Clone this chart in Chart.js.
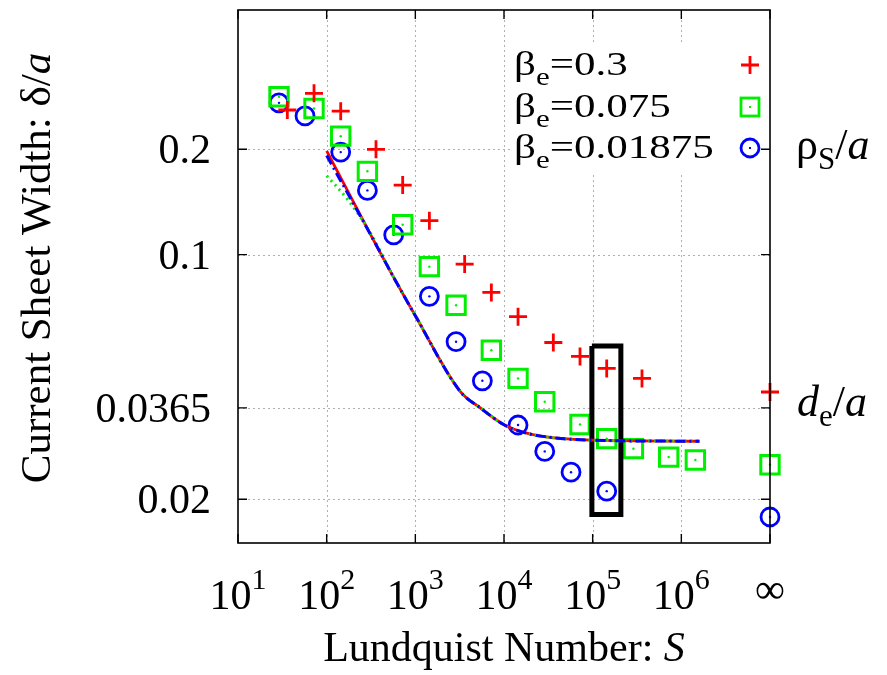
<!DOCTYPE html>
<html>
<head>
<meta charset="utf-8">
<script src="https://cdn.jsdelivr.net/npm/chart.js@4.4.1/dist/chart.umd.min.js"></script>
<style>
body{margin:0;background:#fff}
#wrap{width:887px;height:675px}
</style>
</head>
<body>
<div id="wrap"><canvas id="chart" width="887" height="675"></canvas></div>
<script>
// Lundquist number S (infinity plotted at the right edge, 1e7)
const INF = 1e7

// beta_e = 0.3  (red +)
const redS = [36, 72, 144, 360, 720, 1440, 3600, 7200, 14400, 36000, 72000, 144000, 360000, INF]
const redW = [0.259, 0.289, 0.257, 0.200, 0.158, 0.125, 0.094, 0.078, 0.0665, 0.0561, 0.0512, 0.0473, 0.0443, 0.0405]

// beta_e = 0.075  (green boxes)
const greenS = [29, 72, 144, 288, 720, 1440, 2880, 7200, 14400, 28800, 72000, 144000, 288000, 720000, 1440000, INF]
const greenW = [0.2825, 0.2616, 0.218, 0.173, 0.1217, 0.0924, 0.0717, 0.0533, 0.0443, 0.038, 0.0327, 0.0298, 0.0279, 0.0264, 0.0259, 0.0251]

// beta_e = 0.01875  (blue circles)
const blueS = [29, 57, 144, 288, 570, 1440, 2880, 5700, 14400, 28800, 57000, 144000, INF]
const blueW = [0.2714, 0.249, 0.1963, 0.1526, 0.1139, 0.076, 0.0564, 0.0436, 0.0326, 0.0274, 0.0239, 0.0211, 0.0178]

// model curves
const lineRedS = [100, 340, 570, 1000, 3200, 5400, 9900, 15000, 26000, 100000, 1600000]
const lineRedW = [0.198, 0.1097, 0.0861, 0.0669, 0.0407, 0.0365, 0.0327, 0.0313, 0.0303, 0.0295, 0.0293]
const lineGreenS = [100, 170, 300, 570, 1000, 3200, 5400, 9900, 15000, 26000, 100000, 1600000]
const lineGreenW = [0.168, 0.1444, 0.1172, 0.0861, 0.0669, 0.0407, 0.0365, 0.0327, 0.0313, 0.0303, 0.0295, 0.0293]
const lineBlueS = [100, 340, 570, 1000, 3200, 5400, 9900, 15000, 26000, 100000, 1600000]
const lineBlueW = [0.192, 0.1097, 0.0861, 0.0669, 0.0407, 0.0365, 0.0327, 0.0313, 0.0303, 0.0295, 0.0293]

// highlighted S = 1e5 runs
const boxS = [98000, 208000, 208000, 98000, 98000]
const boxW = [0.0548, 0.0548, 0.0181, 0.0181, 0.0548]

// axes
const xTicks = [10, 100, 1000, 1e4, 1e5, 1e6, 1e7]
const xTickExp = ['1', '2', '3', '4', '5', '6', '∞']
const yTicks = [0.02, 0.0365, 0.1, 0.2]
const yTickLabels = ['0.02', '0.0365', '0.1', '0.2']

const RED = '#ff0000'
const GREEN = '#00ee00'
const BLUE = '#0000ff'
const SERIF = '"Liberation Serif", "Times New Roman", serif'

const pts = (xs, ys) => xs.map((x, i) => ({x, y: ys[i]}))

// draw text made of pieces (normal / sub / italic)
function richWidth(ctx, parts){
  let w = 0
  parts.forEach(p => { ctx.font = p.font; w += ctx.measureText(p.t).width })
  return w
}
function drawRich(ctx, parts, x, y, align){
  let w = richWidth(ctx, parts)
  let cx = align === 'right' ? x - w : align === 'center' ? x - w / 2 : x
  ctx.textBaseline = 'alphabetic'
  ctx.textAlign = 'left'
  parts.forEach(p => {
    ctx.font = p.font
    ctx.fillText(p.t, cx, y + (p.dy || 0))
    cx += ctx.measureText(p.t).width
  })
}

const F = s => s + 'px ' + SERIF
const FI = s => 'italic ' + s + 'px ' + SERIF

const decor = {
  id: 'decor',
  beforeDatasetsDraw(chart){
    const {ctx, chartArea: a, scales: {x, y}} = chart
    ctx.save()
    ctx.strokeStyle = '#b0b0b0'
    ctx.lineWidth = 1
    ctx.setLineDash([2, 3])
    xTicks.forEach(v => {
      const px = Math.round(x.getPixelForValue(v)) + 0.5
      if (px <= a.left + 2 || px >= a.right - 2) return
      ctx.beginPath(); ctx.moveTo(px, a.top); ctx.lineTo(px, a.bottom); ctx.stroke()
    })
    yTicks.forEach(v => {
      const py = Math.round(y.getPixelForValue(v)) + 0.5
      ctx.beginPath(); ctx.moveTo(a.left, py); ctx.lineTo(a.right, py); ctx.stroke()
    })
    ctx.setLineDash([])
    // opaque key box
    ctx.fillStyle = '#fff'
    ctx.fillRect(512, 43, a.right - 513, 130)
    ctx.restore()
  },
  afterDraw(chart){
    const {ctx, chartArea: a, scales: {x, y}} = chart
    ctx.save()
    // frame
    ctx.strokeStyle = '#000'
    ctx.lineWidth = 1.6
    ctx.strokeRect(a.left, a.top, a.right - a.left, a.bottom - a.top)
    // inward ticks
    ctx.lineWidth = 1.4
    const tl = 9
    xTicks.forEach(v => {
      const px = x.getPixelForValue(v)
      ctx.beginPath()
      ctx.moveTo(px, a.bottom); ctx.lineTo(px, a.bottom - tl)
      ctx.moveTo(px, a.top); ctx.lineTo(px, a.top + tl)
      ctx.stroke()
    })
    yTicks.forEach(v => {
      const py = y.getPixelForValue(v)
      ctx.beginPath()
      ctx.moveTo(a.left, py); ctx.lineTo(a.left + tl, py)
      ctx.moveTo(a.right, py); ctx.lineTo(a.right - tl, py)
      ctx.stroke()
    })
    ctx.fillStyle = '#000'
    // x tick labels
    xTicks.forEach((v, i) => {
      const px = x.getPixelForValue(v)
      if (xTickExp[i] === '∞') {
        ctx.font = F(42); ctx.textAlign = 'center'; ctx.textBaseline = 'alphabetic'
        ctx.fillText('∞', px, a.bottom + 60)
      } else {
        drawRich(ctx, [{t: '10', font: F(42)}, {t: xTickExp[i], font: F(30), dy: -20}], px, a.bottom + 66, 'center')
      }
    })
    // y tick labels
    yTicks.forEach((v, i) => {
      const py = y.getPixelForValue(v)
      ctx.font = F(42); ctx.textAlign = 'right'; ctx.textBaseline = 'alphabetic'
      ctx.fillText(yTickLabels[i], a.left - 27, py + 14)
    })
    // right side labels
    drawRich(ctx, [{t: 'ρ', font: F(44)}, {t: 'S', font: F(31), dy: 10}, {t: '/', font: F(44)}, {t: 'a', font: FI(44)}],
      a.right + 26, y.getPixelForValue(0.2) + 10, 'left')
    drawRich(ctx, [{t: 'd', font: FI(44)}, {t: 'e', font: F(31), dy: 10}, {t: '/', font: F(44)}, {t: 'a', font: FI(44)}],
      a.right + 27, y.getPixelForValue(0.0365) + 8, 'left')
    // axis titles
    drawRich(ctx, [{t: 'Lundquist Number: ', font: F(42)}, {t: 'S', font: FI(42)}], (a.left + a.right) / 2, 661, 'center')
    ctx.save()
    ctx.translate(50, 268)
    ctx.rotate(-Math.PI / 2)
    drawRich(ctx, [{t: 'Current Sheet Width: δ/', font: F(43)}, {t: 'a', font: FI(43)}], 0, 0, 'center')
    ctx.restore()
    // key
    const rows = [['0.3', 'plus', RED], ['0.075', 'box', GREEN], ['0.01875', 'circ', BLUE]]
    const rowY = [75, 117, 158]
    rows.forEach((r, i) => {
      ctx.save()
      ctx.translate(514, rowY[i])
      ctx.scale(1, 0.8)
      ctx.fillStyle = '#000'
      drawRich(ctx, [{t: 'β', font: F(43)}, {t: 'e', font: F(31), dy: 12}, {t: '=' + r[0], font: F(43)}], 0, 0, 'left')
      ctx.restore()
      const mx = 750, my = rowY[i] - 10
      ctx.strokeStyle = r[2]; ctx.fillStyle = r[2]; ctx.lineWidth = 2.8
      ctx.beginPath()
      if (r[1] === 'plus') {
        ctx.moveTo(mx - 9, my); ctx.lineTo(mx + 9, my); ctx.moveTo(mx, my - 9); ctx.lineTo(mx, my + 9)
        ctx.stroke()
      } else if (r[1] === 'box') {
        ctx.strokeRect(mx - 9, my - 9, 18, 18)
        ctx.fillRect(mx - 1, my - 1, 2, 2)
      } else {
        ctx.arc(mx, my, 9, 0, Math.PI * 2); ctx.stroke()
        ctx.fillRect(mx - 1, my - 1, 2, 2)
      }
    })
    ctx.restore()
  }
}

const ctx = document.getElementById('chart').getContext('2d')

new Chart(ctx, {
  type: 'scatter',
  data: {
    datasets: [
      {label: 'box', data: pts(boxS, boxW), showLine: true, borderColor: '#000', borderWidth: 5, pointRadius: 0, borderJoinStyle: 'miter', order: 5},
      {label: 'line blue', data: pts(lineBlueS, lineBlueW), showLine: true, borderColor: BLUE, borderWidth: 3, borderDash: [10, 4, 2, 4], pointRadius: 0, cubicInterpolationMode: 'monotone', order: 1},
      {label: 'line green', data: pts(lineGreenS, lineGreenW), showLine: true, borderColor: GREEN, borderWidth: 3, borderDash: [2, 4], pointRadius: 0, cubicInterpolationMode: 'monotone', order: 2},
      {label: 'line red', data: pts(lineRedS, lineRedW), showLine: true, borderColor: RED, borderWidth: 2.8, pointRadius: 0, cubicInterpolationMode: 'monotone', order: 3},
      {label: 'red', data: pts(redS, redW), pointStyle: 'cross', pointRadius: 9, borderColor: RED, borderWidth: 2.8, clip: false, order: 6},
      {label: 'green', data: pts(greenS, greenW), pointStyle: 'rect', pointRadius: 13, borderColor: GREEN, backgroundColor: 'rgba(0,0,0,0)', borderWidth: 3, clip: false, order: 7},
      {label: 'green dot', data: pts(greenS, greenW), pointStyle: 'circle', pointRadius: 1.2, borderWidth: 0, backgroundColor: GREEN, clip: false, order: 7},
      {label: 'blue', data: pts(blueS, blueW), pointStyle: 'circle', pointRadius: 9, borderColor: BLUE, backgroundColor: 'rgba(0,0,0,0)', borderWidth: 2.8, clip: false, order: 8},
      {label: 'blue dot', data: pts(blueS, blueW), pointStyle: 'circle', pointRadius: 1.2, borderWidth: 0, backgroundColor: BLUE, clip: false, order: 8}
    ]
  },
  options: {
    responsive: false,
    animation: false,
    devicePixelRatio: 1,
    layout: {autoPadding: false, padding: {left: 238, top: 10, right: 117, bottom: 132}},
    plugins: {legend: {display: false}, tooltip: {enabled: false}},
    scales: {
      x: {
        type: 'logarithmic', min: 10, max: 1e7,
        grid: {display: false, drawTicks: false},
        border: {display: false},
        ticks: {display: false}
      },
      y: {
        type: 'logarithmic', min: 0.015, max: 0.5,
        grid: {display: false, drawTicks: false},
        border: {display: false},
        ticks: {display: false}
      }
    }
  },
  plugins: [decor]
})
</script>
</body>
</html>
